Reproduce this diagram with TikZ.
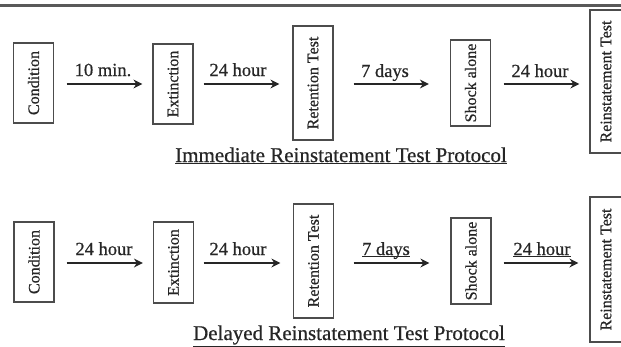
\documentclass[tikz,border=0pt]{standalone}
\usepackage{fontspec}
\setmainfont{Liberation Serif}
\newfontfamily\heavyserif[FakeBold=0.6]{Liberation Serif}
\usetikzlibrary{arrows.meta,calc}
\begin{document}
\begin{tikzpicture}[x=1pt,y=-1pt,
  box/.style={draw=black!70, line width=1.2pt, rotate=90, inner sep=0pt,
    font=\heavyserif\fontsize{16}{18}\selectfont, text=black!85, minimum height=40pt},
  arr/.style={line width=2.5pt, black!85, -{Stealth[length=9pt,width=9pt]}},
  lab/.style={anchor=base, inner sep=0pt, font=\heavyserif\fontsize{18.5}{20}\selectfont, text=black!85},
  captext/.style={anchor=base, inner sep=0pt, font=\heavyserif\fontsize{21}{24}\selectfont, text=black!85}]
\useasboundingbox (0,0) rectangle (621,346);
% top rule
\draw[line width=2.5pt, black!65] (0,5.5) -- (621,5.5);
% row coordinates
\coordinate (r1) at (0,84);
\coordinate (r2) at (0,263);
% top row
\node[box, minimum width=80pt] (c1) at (33.5,83) {Condition};
\node[box, minimum width=80pt] (e1) at (173,84) {Extinction};
\node[box, minimum width=114pt] (t1) at (313,83) {Retention Test};
\node[box, minimum width=86pt] (s1) at (470.5,83) {Shock alone};
\node[box, minimum width=143pt, minimum height=32pt] (i1) at (606,81.5) {Reinstatement Test};
\draw[arr] ($(c1.south |- r1)+(12.5,0)$) -- ($(e1.north |- r1)+(-10,0)$);
\draw[arr] ($(e1.south |- r1)+(10,0)$) -- ($(t1.north |- r1)+(-13,0)$);
\draw[arr] ($(t1.south |- r1)+(20,0)$) -- ($(s1.north |- r1)+(-21,0)$);
\draw[arr] ($(s1.south |- r1)+(12.5,0)$) -- ($(i1.north |- r1)+(-10,0)$);
\node[lab] (l1) at (103,76) {10 min.};
\node[lab] (l2) at (238,76) {24 hour};
\node[lab] (l3) at (385,77) {7 days};
\node[lab] (l4) at (540,77) {24 hour};
\node[captext] (cap1) at (341,162) {\underline{Immediate Reinstatement Test Protocol}};
% bottom row
\node[box, minimum width=80pt] (c2) at (34,262) {Condition};
\node[box, minimum width=81pt] (e2) at (173.5,262.5) {Extinction};
\node[box, minimum width=114pt] (t2) at (313.5,261) {Retention Test};
\node[box, minimum width=86pt] (s2) at (471,261) {Shock alone};
\node[box, minimum width=145pt, minimum height=32pt] (i2) at (606,269.5) {Reinstatement Test};
\draw[arr] ($(c2.south |- r2)+(12,0)$) -- ($(e2.north |- r2)+(-10,0)$);
\draw[arr] ($(e2.south |- r2)+(9.5,0)$) -- ($(t2.north |- r2)+(-12.5,0)$);
\draw[arr] ($(t2.south |- r2)+(19.5,0)$) -- ($(s2.north |- r2)+(-21,0)$);
\draw[arr] ($(s2.south |- r2)+(12,0)$) -- ($(i2.north |- r2)+(-11,0)$);
\node[lab] (m1) at (104,255) {24 hour};
\node[lab] (m2) at (238,255) {24 hour};
\node[lab] (m3) at (386,255) {\underline{\smash{7 days}}};
\node[lab] (m4) at (542,255) {\underline{\smash{24 hour}}};
\node[captext] (cap2) at (349,340) {\underline{Delayed Reinstatement Test Protocol}};
\end{tikzpicture}
\end{document}
